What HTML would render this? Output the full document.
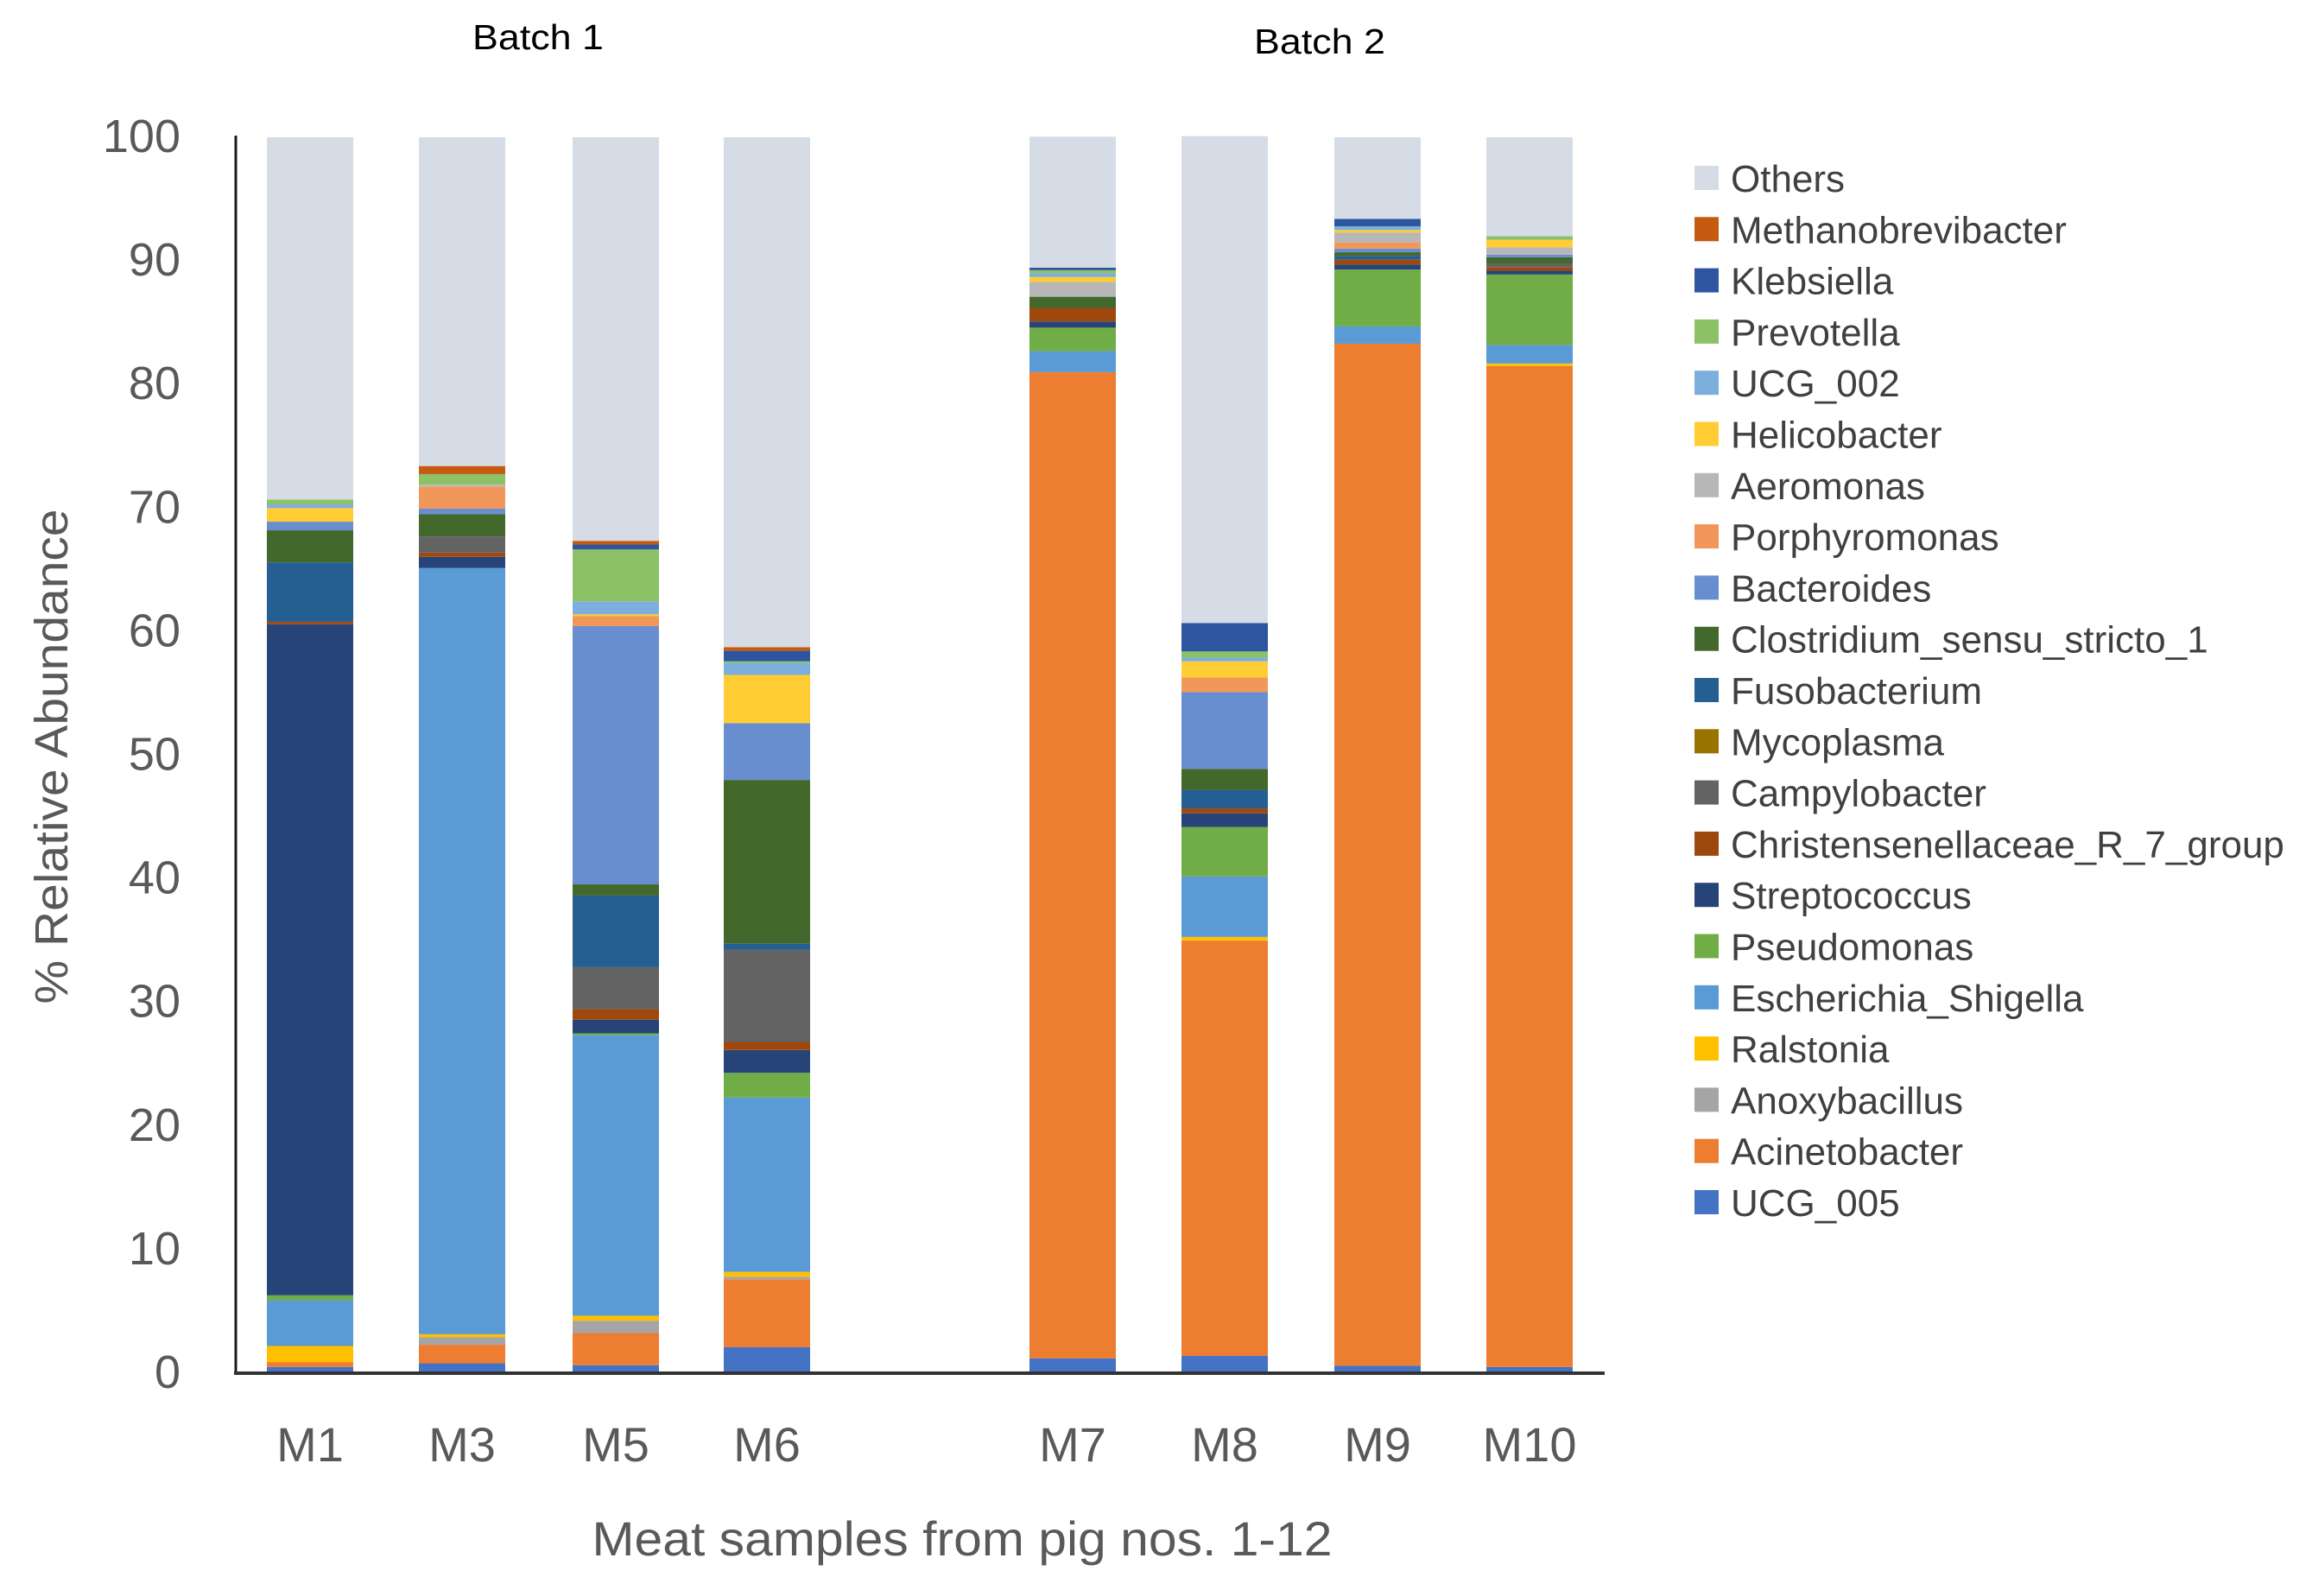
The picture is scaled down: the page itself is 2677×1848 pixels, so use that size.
<!DOCTYPE html>
<html><head><meta charset="utf-8"><style>
html,body{margin:0;padding:0;background:#fff;}
svg{display:block;font-family:"Liberation Sans",sans-serif;}
</style></head><body>
<svg id="chart" width="2677" height="1848" viewBox="0 0 2677 1848" xmlns="http://www.w3.org/2000/svg">
<g id="bars"></g>
<g id="axes"></g>
<g id="legend"></g>
</svg>
<script>
const categories = ["M1","M3","M5","M6","M7","M8","M9","M10"];
const species = ["UCG_005","Acinetobacter","Anoxybacillus","Ralstonia","Escherichia_Shigella","Pseudomonas","Streptococcus","Christensenellaceae_R_7_group","Campylobacter","Mycoplasma","Fusobacterium","Clostridium_sensu_stricto_1","Bacteroides","Porphyromonas","Aeromonas","Helicobacter","UCG_002","Prevotella","Klebsiella","Methanobrevibacter","Others"];
const colors = ["#4472c4","#ed7d31","#a5a5a5","#ffc000","#5b9bd5","#70ad47","#264478","#9e480e","#636363","#997300","#255e91","#43682b","#698ed0","#f1975a","#b7b7b7","#ffcd33","#7cafdd","#8cc168","#2e55a0","#c55a11","#d6dce5"];
const vUCG005 = [0.5,0.8,0.65,2.1,1.2,1.4,0.6,0.5];
const vAcinetobacter = [0.4,1.5,2.6,5.5,79.8,33.6,82.7,81.0];
const vAnoxybacillus = [0,0.6,1.0,0.2,0,0,0,0];
const vRalstonia = [1.3,0.25,0.4,0.4,0,0.3,0,0.2];
const vEscherichia = [3.7,62.0,22.7,14.1,1.7,4.9,1.4,1.5];
const vPseudomonas = [0.4,0,0.15,2.0,1.9,4.0,4.6,5.7];
const vStreptococcus = [54.3,0.9,1.1,1.85,0.5,1.1,0.4,0.3];
const vChristensenellaceae = [0.2,0.35,0.85,0.65,1.1,0.4,0.4,0.3];
const vCampylobacter = [0,1.3,3.4,7.45,0,0,0,0.3];
const vMycoplasma = [0,0,0,0,0,0,0,0];
const vFusobacterium = [4.8,0,5.8,0.5,0,1.5,0.3,0];
const vClostridium = [2.6,1.8,0.9,13.25,0.9,1.7,0.3,0.5];
const vBacteroides = [0.7,0.45,20.9,4.6,0,6.2,0.3,0.2];
const vPorphyromonas = [0,1.8,0.8,0,0,1.2,0.5,0];
const vAeromonas = [0,0.15,0,0,1.2,0,0.8,0.6];
const vHelicobacter = [1.1,0,0.15,3.9,0.4,1.3,0.2,0.6];
const vUCG002 = [0.3,0,1.05,0.95,0.3,0.3,0.3,0];
const vPrevotella = [0.4,0.85,4.2,0.15,0.25,0.5,0,0.3];
const vKlebsiella = [0,0,0.4,0.85,0.2,2.3,0.6,0];
const vMethanobrevibacter = [0,0.65,0.3,0.3,0,0,0,0];
const vOthers = [29.3,26.6,32.65,41.25,10.6,39.4,6.6,8.0];
const yTicks = [0,10,20,30,40,50,60,70,80,90,100];

const series = [vUCG005,vAcinetobacter,vAnoxybacillus,vRalstonia,vEscherichia,vPseudomonas,vStreptococcus,vChristensenellaceae,vCampylobacter,vMycoplasma,vFusobacterium,vClostridium,vBacteroides,vPorphyromonas,vAeromonas,vHelicobacter,vUCG002,vPrevotella,vKlebsiella,vMethanobrevibacter,vOthers];

const NS = "http://www.w3.org/2000/svg";
const Y0 = 1590, Y100 = 159;
function yScale(v){ return Y0 - (Y0 - Y100) * v / 100; }
const centers1 = [359,535,713,888], centers2 = [1242,1418,1595,1771];
function xScale(i){ return i < 4 ? centers1[i] : centers2[i-4]; }
const BW = 100;
function mk(tag, attrs, parent){ const e=document.createElementNS(NS,tag); for(const k in attrs) e.setAttribute(k,attrs[k]); parent.appendChild(e); return e; }

const gB = document.getElementById('bars');
categories.forEach((c,i)=>{
  let acc = 0;
  series.forEach((s,j)=>{
    const v = s[i];
    if (v <= 0) return;
    const yTop = yScale(acc+v), yBot = yScale(acc);
    const r = mk('rect',{x:xScale(i)-BW/2,y:yTop,width:BW,height:yBot-yTop,fill:colors[j]},gB);
    
    
    acc += v;
  });
});

const gA = document.getElementById('axes');
yTicks.forEach(t=>{
  const tx = mk('text',{x:209,y:yScale(t)+17,'text-anchor':'end','font-size':54,fill:'#595959'},gA);
  tx.textContent = t;
  
  
});
categories.forEach((c,i)=>{
  const tx = mk('text',{x:xScale(i),y:1692,'text-anchor':'middle','font-size':56,fill:'#595959'},gA);
  tx.textContent = c;
  
  
});
const ya = mk('line',{x1:273,y1:157,x2:273,y2:Y0+2,stroke:'#1a1a1a','stroke-width':3},gA);


const xa = mk('line',{x1:271,y1:Y0,x2:1858,y2:Y0,stroke:'#333','stroke-width':4},gA);


const xt = mk('text',{x:1114,y:1801,'text-anchor':'middle','font-size':56,fill:'#595959',textLength:857,lengthAdjust:'spacingAndGlyphs'},gA);
xt.textContent = 'Meat samples from pig nos. 1-12';


const yt = mk('text',{x:0,y:0,'text-anchor':'middle','font-size':54,fill:'#595959',textLength:573,lengthAdjust:'spacingAndGlyphs',transform:'translate(78,876) rotate(-90)'},gA);
yt.textContent = '% Relative Abundance';


const b1 = mk('text',{x:623,y:57,'text-anchor':'middle','font-size':41,fill:'#000',textLength:152,lengthAdjust:'spacingAndGlyphs'},gA);
b1.textContent = 'Batch 1';


const b2 = mk('text',{x:1528,y:62,'text-anchor':'middle','font-size':41,fill:'#000',textLength:152,lengthAdjust:'spacingAndGlyphs'},gA);
b2.textContent = 'Batch 2';



const gL = document.getElementById('legend');
for (let k=0;k<species.length;k++){
  const j = species.length-1-k;
  const cy = 206 + k*59.3;
  const g = mk('g',{},gL);
  
  
  mk('rect',{x:1962,y:cy-14,width:28,height:28,fill:colors[j]},g);
  const tx = mk('text',{x:2004,y:cy+16,'font-size':44,fill:'#404040'},g);
  tx.textContent = species[j];
}
</script>
</body></html>
